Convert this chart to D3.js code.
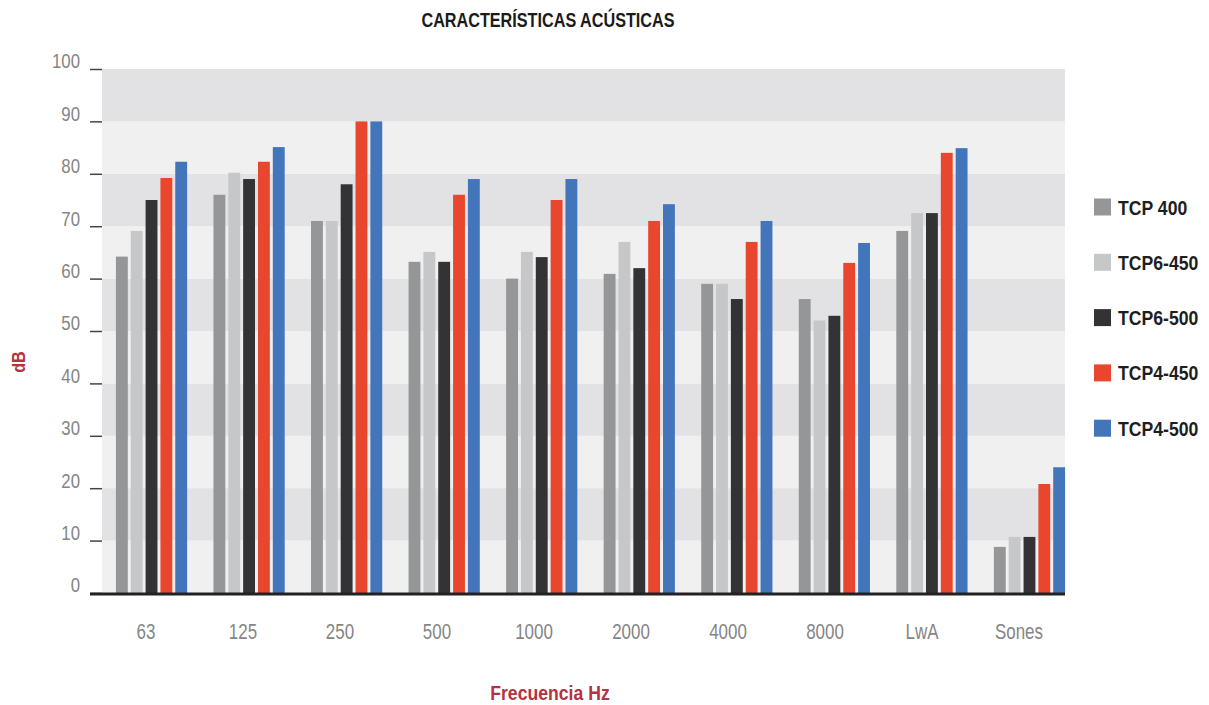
<!DOCTYPE html>
<html>
<head>
<meta charset="utf-8">
<script src="https://cdn.jsdelivr.net/npm/d3@7"></script>
<style>
  html, body { margin: 0; padding: 0; background: #fff; }
  svg { display: block; font-family: "Liberation Sans", Arial, sans-serif; }
</style>
</head>
<body>
<svg id="chart" width="1209" height="705"></svg>
<script>
// ---- data ----
const categories = ['63', '125', '250', '500', '1000', '2000', '4000', '8000', 'LwA', 'Sones'];
const seriesNames = ['TCP 400', 'TCP6-450', 'TCP6-500', 'TCP4-450', 'TCP4-500'];
const tcp400   = [64.2, 76, 71, 63.2, 60, 60.9, 59, 56.1, 69.1, 8.8];
const tcp6_450 = [69.1, 80.2, 71, 65.1, 65.1, 67, 59, 52, 72.5, 10.7];
const tcp6_500 = [75, 79, 78, 63.2, 64.1, 62, 56.1, 52.9, 72.5, 10.7];
const tcp4_450 = [79.2, 82.3, 90, 76, 75, 71, 67, 63, 84, 20.8];
const tcp4_500 = [82.3, 85.1, 90, 79, 79, 74.2, 71, 66.8, 84.9, 24];
const seriesValues = [tcp400, tcp6_450, tcp6_500, tcp4_450, tcp4_500];
const yTicks = [0, 10, 20, 30, 40, 50, 60, 70, 80, 90, 100];

const colors = ['#959697', '#c6c7c8', '#333335', '#e8472d', '#4375bb'];

// ---- layout ----
const svg = d3.select('#chart');
const plotL = 102, plotR = 1065, plotT = 69, plotB = 593;

const y = d3.scaleLinear().domain([0, 100]).range([plotB, plotT]);
const x = d3.scaleBand().domain(categories).range([102.75, 1078.25]).paddingInner(0.27).paddingOuter(0.135);
const xs = d3.scaleBand().domain(seriesNames).range([0, x.bandwidth()]).paddingInner(0.2);
// category labels sit on their own even spacing, slightly left of the bar groups
const xLab = d3.scalePoint().domain(categories).range([145.5, 1018.5]);
const color = d3.scaleOrdinal().domain(seriesNames).range(colors);

// the original uses a condensed face; squeeze text horizontally
function condense(sel, k){
  sel.each(function(){
    const t = d3.select(this);
    const tx = +t.attr('x') || 0, ty = +t.attr('y') || 0;
    t.attr('x', 0).attr('y', 0).attr('transform', `translate(${tx},${ty}) scale(${k},1)`);
  });
}

// background bands
const bands = d3.range(0, 100, 10);
svg.append('g').selectAll('rect').data(bands).join('rect')
  .attr('x', plotL)
  .attr('width', plotR - plotL)
  .attr('y', d => y(d + 10))
  .attr('height', d => y(d) - y(d + 10))
  .attr('fill', d => (d / 10) % 2 === 1 ? '#e2e2e4' : '#f0f0f0');

// bars
const rows = categories.map((c, i) => ({ cat: c, vals: seriesNames.map((s, j) => ({ s, v: seriesValues[j][i] })) }));
svg.append('g').selectAll('g').data(rows).join('g')
  .attr('transform', d => `translate(${x(d.cat)},0)`)
  .selectAll('rect').data(d => d.vals).join('rect')
  .attr('x', d => xs(d.s))
  .attr('width', xs.bandwidth())
  .attr('y', d => y(d.v))
  .attr('height', d => y(0) - y(d.v))
  .attr('fill', d => color(d.s));

// y axis
const yAxis = svg.append('g')
  .attr('transform', `translate(${plotL},0)`)
  .call(d3.axisLeft(y).tickValues(yTicks).tickSizeInner(12).tickSizeOuter(0).tickPadding(10));
yAxis.select('.domain').remove();
yAxis.selectAll('.tick line').attr('stroke', '#444').attr('stroke-width', 1.5);
yAxis.selectAll('.tick text').attr('fill', '#858585').attr('font-size', 21)
  .attr('font-family', '"Liberation Sans", Arial, sans-serif')
  .attr('dy', '-0.05em')
  .call(condense, 0.8);

// x axis labels
const xAxis = svg.append('g')
  .attr('transform', `translate(0,${plotB})`)
  .call(d3.axisBottom(xLab).tickSize(0).tickPadding(32));
xAxis.select('.domain').remove();
xAxis.selectAll('.tick text').attr('fill', '#858585').attr('font-size', 22)
  .attr('font-family', '"Liberation Sans", Arial, sans-serif')
  .attr('dy', '0.62em')
  .call(condense, 0.77);

// baseline
svg.append('line')
  .attr('x1', 90).attr('x2', plotR)
  .attr('y1', plotB + 1).attr('y2', plotB + 1)
  .attr('stroke', '#222').attr('stroke-width', 3);

// title
svg.append('text')
  .attr('x', 548).attr('y', 27)
  .attr('text-anchor', 'middle')
  .attr('font-size', 20).attr('font-weight', 'bold').attr('fill', '#1a1a1a')
  .text('CARACTERÍSTICAS ACÚSTICAS')
  .call(condense, 0.81);

// axis titles
svg.append('text')
  .attr('transform', 'translate(25,362) rotate(-90) scale(0.85,1)')
  .attr('text-anchor', 'middle')
  .attr('font-size', 19).attr('font-weight', 'bold').attr('fill', '#b5323f')
  .text('dB');

svg.append('text')
  .attr('x', 550).attr('y', 700)
  .attr('text-anchor', 'middle')
  .attr('font-size', 21).attr('font-weight', 'bold').attr('fill', '#b5323f')
  .text('Frecuencia Hz')
  .call(condense, 0.84);

// legend
const legend = svg.append('g').selectAll('g').data(seriesNames).join('g')
  .attr('transform', (d, i) => `translate(1094,${207 + i * 55.3})`);
legend.append('rect')
  .attr('x', 0).attr('y', -8.5).attr('width', 17).attr('height', 17)
  .attr('fill', d => color(d));
legend.append('text')
  .attr('x', 24).attr('y', 7.5)
  .attr('font-size', 21).attr('font-weight', 'bold').attr('fill', '#1e1e1e')
  .text(d => d)
  .call(condense, 0.84);
</script>
</body>
</html>
